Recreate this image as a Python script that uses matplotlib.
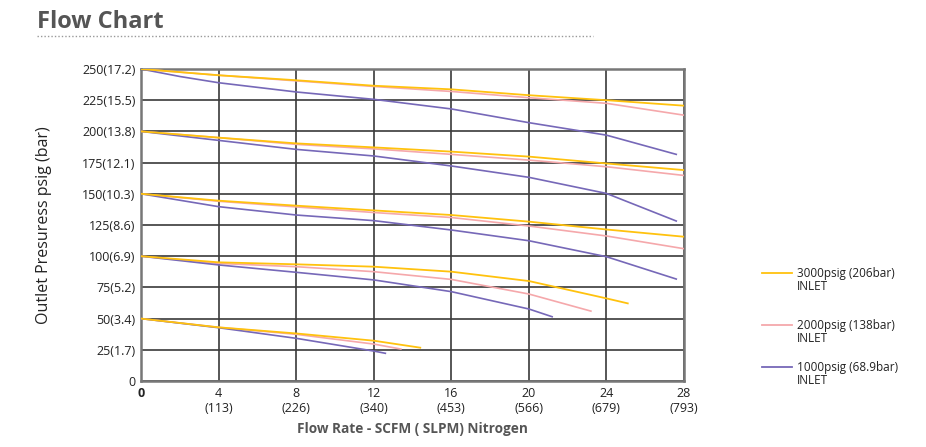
import matplotlib.pyplot as plt

plt.rcParams['font.family'] = ['Open Sans', 'DejaVu Sans']

# flow rate (SCFM) sample points
flow = [0, 4, 8, 12, 16, 20, 24, 28]

# 3000 psig inlet curves (outlet set points 250..50)
x3000 = [flow, flow, flow, [0, 4, 8, 12, 16, 20, 24, 25.1], [0, 4, 8, 12, 14.4]]
y3000 = [
    [250, 245, 241, 236.6, 233.7, 229, 225, 220.6],
    [200, 195, 190.4, 187.2, 183.8, 179.8, 174.3, 169],
    [150, 144.5, 140.5, 136.7, 133, 127.7, 121.4, 115.6],
    [100, 95.1, 93.5, 91.6, 87.6, 80.1, 66.2, 62.2],
    [50, 43, 38.1, 32.3, 26.7],
]

# 2000 psig inlet curves
x2000 = [flow, flow, flow, [0, 4, 8, 12, 16, 20, 23.2], [0, 4, 8, 12, 13.4]]
y2000 = [
    [250, 245, 240.5, 236, 232, 227, 222.5, 213],
    [200, 195, 189.6, 186, 181.6, 177, 171.7, 164.7],
    [150, 144, 139.5, 135, 131, 124.2, 116.2, 106],
    [100, 94.2, 91.6, 87.6, 81.4, 69.7, 56],
    [50, 43, 37.4, 29.6, 25.6],
]

# 1000 psig inlet curves
x1000 = [[0, 2, 4, 8, 12, 16, 20, 24, 27.6], [0, 4, 8, 12, 16, 20, 24, 27.6],
         [0, 4, 8, 12, 16, 20, 24, 27.6], [0, 4, 8, 12, 16, 20, 21.2], [0, 4, 8, 12, 12.6]]
y1000 = [
    [250, 244, 239, 231.6, 225.7, 218, 207, 197, 181.6],
    [200, 192.8, 185.6, 180.3, 172.3, 163.2, 150.3, 128.2],
    [150, 139.7, 133, 128.5, 121, 112.4, 99.6, 81.7],
    [100, 93, 87.1, 81, 71.6, 57.7, 51.5],
    [50, 42.7, 34.2, 24, 22.2],
]

ytick_vals = [0, 25, 50, 75, 100, 125, 150, 175, 200, 225, 250]
ytick_labels = ['0', '25(1.7)', '50(3.4)', '75(5.2)', '100(6.9)', '125(8.6)',
                '150(10.3)', '175(12.1)', '200(13.8)', '225(15.5)', '250(17.2)']
xtick_vals = [0, 4, 8, 12, 16, 20, 24, 28]
xtick_labels = ['0', '4\n(113)', '8\n(226)', '12\n(340)', '16\n(453)',
                '20\n(566)', '24\n(679)', '28\n(793)']

c3000 = '#FFC20E'
c2000 = '#F5A8AB'
c1000 = '#7668B8'

fig = plt.figure(figsize=(9.26, 4.47), dpi=100)
ax = fig.add_axes([141 / 926, 1 - 381 / 447, (684 - 141) / 926, (381 - 69) / 447])

for xs, ys in zip(x3000, y3000):
    ax.plot(xs, ys, color=c3000, lw=1.3, zorder=4)
for xs, ys in zip(x2000, y2000):
    ax.plot(xs, ys, color=c2000, lw=1.2, zorder=3)
for xs, ys in zip(x1000, y1000):
    ax.plot(xs, ys, color=c1000, lw=1.2, zorder=3)

ax.set_xlim(0, 28)
ax.set_ylim(0, 250)
ax.set_xticks(xtick_vals)
ax.set_xticklabels(xtick_labels, fontsize=9, color='#222222', linespacing=1.25)
ax.get_xticklabels()[0].set_fontweight('bold')
ax.set_yticks(ytick_vals)
ax.set_yticklabels(ytick_labels, fontsize=9, color='#222222')
ax.tick_params(length=0, pad=4)
ax.grid(True, color='#3a3a3a', lw=1.2)
ax.set_axisbelow(True)
for s in ax.spines.values():
    s.set_color('#777777')
    s.set_linewidth(1.8)

ax.set_ylabel('Outlet Presuress psig (bar)', fontsize=11.5, color='#222222', labelpad=22)
ax.set_xlabel('Flow Rate - SCFM ( SLPM) Nitrogen', fontsize=9.8, color='#555555',
              fontweight='bold', labelpad=5)

# title and dotted rule
fig.text(37 / 926, 1 - 22 / 447, 'Flow Chart', fontsize=17, fontweight='bold',
         color='#555555', va='center', ha='left')
fig.add_artist(plt.Line2D([37 / 926, 593 / 926], [1 - 36 / 447, 1 - 36 / 447],
                          color='#999999', lw=1, ls=(0, (1, 1.5))))

# legend
legend_items = [(c3000, '3000psig (206bar)', 273), (c2000, '2000psig (138bar)', 325),
                (c1000, '1000psig (68.9bar)', 367)]
for col, lab, py in legend_items:
    fig.add_artist(plt.Line2D([762 / 926, 792 / 926], [1 - py / 447, 1 - py / 447],
                              color=col, lw=1.3))
    fig.text(797 / 926, 1 - py / 447, lab, fontsize=8.5, color='#222222', va='center')
    fig.text(797 / 926, 1 - (py + 13) / 447, 'INLET', fontsize=8.5, color='#222222', va='center')

fig.savefig('out.png', dpi=100)
